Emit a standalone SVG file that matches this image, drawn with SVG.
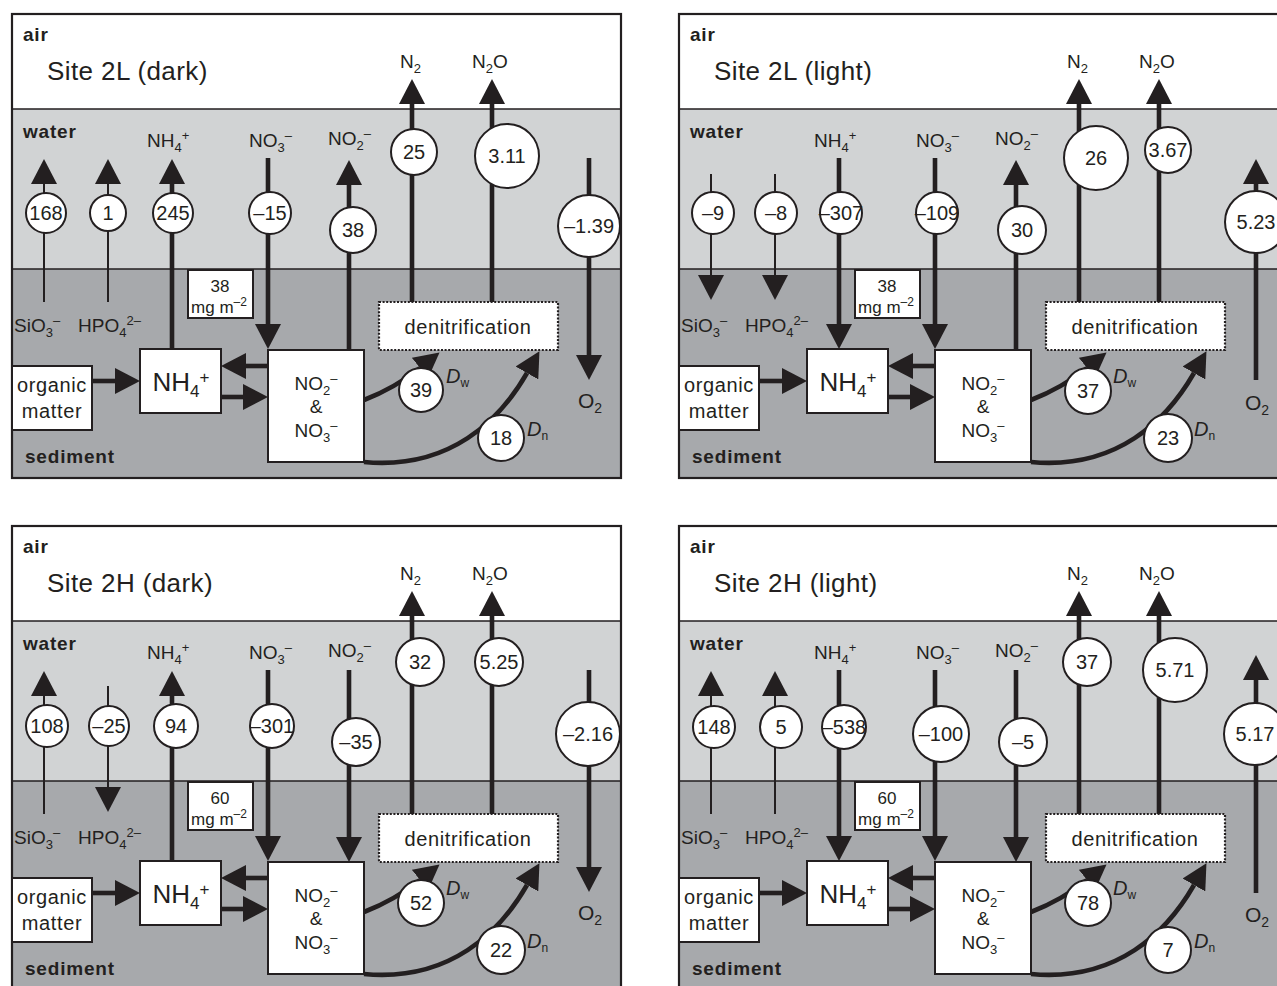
<svg xmlns="http://www.w3.org/2000/svg" width="1277" height="986" viewBox="0 0 1277 986">
<style>
.air{fill:#ffffff}
.water{fill:#d1d3d4}
.sed{fill:#a7a9ac}
.div{stroke:#231f20;stroke-width:1.6;fill:none}
.frame{fill:none;stroke:#231f20;stroke-width:2.2}
.thin{stroke:#231f20;stroke-width:2;fill:none;marker-end:url(#ah)}
.thick{stroke:#231f20;stroke-width:4.6;fill:none;marker-end:url(#ah)}
.node{fill:#ffffff;stroke:#231f20;stroke-width:2}
.dot{fill:#ffffff;stroke:#231f20;stroke-width:2.2;stroke-dasharray:2 1.6}
text{font-family:"Liberation Sans",Arial,Helvetica,sans-serif;fill:#231f20}
.lb{font-size:19px;font-weight:bold;letter-spacing:0.8px}
.ti{font-size:26px;letter-spacing:0.4px}
.sp{font-size:19px}
.ss{font-size:13px}
.num{font-size:20px;text-anchor:middle}
.bx{font-size:20px;text-anchor:middle;letter-spacing:0.6px}
.nh{font-size:26px;text-anchor:middle}
.nhs{font-size:17px}
.ms{font-size:17px;text-anchor:middle}
.mss{font-size:12px}
.mid{text-anchor:middle}
.o2{font-size:21px}
.o2s{font-size:14px}
.dl{font-size:20px;font-style:italic}
.dsub{font-size:12px;font-style:normal}
</style>
<defs>
<marker id="ah" markerUnits="userSpaceOnUse" markerWidth="25" markerHeight="26" viewBox="0 0 25 26" refX="0" refY="13" orient="auto">
<path d="M0,0L25,13L0,26Z" fill="#231f20"/>
</marker>
</defs>

<!-- ===================== Site 2L (dark) ===================== -->
<g id="panel-2L-dark">
<g id="tl-background">
<rect class="air" x="12" y="14" width="609" height="95"/>
<rect class="water" x="12" y="109" width="609" height="160"/>
<rect class="sed" x="12" y="269" width="609" height="209"/>
<path class="div" d="M12,109H621M12,269H621"/>
<rect class="frame" x="12" y="14" width="609" height="464"/>
</g>
<g id="tl-labels">
<text class="lb" x="23" y="41">air</text>
<text class="ti" x="47" y="80">Site 2L (dark)</text>
<text class="lb" x="23" y="138">water</text>
<text class="lb" x="25" y="463">sediment</text>
<text class="sp" x="147" y="147">NH<tspan class="ss" dy="5">4</tspan><tspan class="ss" dy="-12">+</tspan></text>
<text class="sp" x="249" y="147">NO<tspan class="ss" dy="5">3</tspan><tspan class="ss" dy="-12">–</tspan></text>
<text class="sp" x="328" y="145">NO<tspan class="ss" dy="5">2</tspan><tspan class="ss" dy="-12">–</tspan></text>
<text class="sp" x="400" y="68">N<tspan class="ss" dy="5">2</tspan></text>
<text class="sp" x="472" y="68">N<tspan class="ss" dy="5">2</tspan><tspan dy="-5">O</tspan></text>
<text class="sp" x="14" y="332">SiO<tspan class="ss" dy="5">3</tspan><tspan class="ss" dy="-12">–</tspan></text>
<text class="sp" x="78" y="332">HPO<tspan class="ss" dy="5">4</tspan><tspan class="ss" dy="-12">2–</tspan></text>
<text class="o2" x="578" y="408">O<tspan class="o2s" dy="5">2</tspan></text>
<text class="dl" x="446" y="383">D<tspan class="dsub" dy="4">w</tspan></text>
<text class="dl" x="527" y="436">D<tspan class="dsub" dy="4">n</tspan></text>
</g>
<g id="tl-connectors">
<path class="thin" d="M44,302V184"/>
<path class="thin" d="M108,302V184"/>
<path class="thick" d="M172,349V184"/>
<path class="thick" d="M268,158V324"/>
<path class="thick" d="M349,350V185"/>
<path class="thick" d="M412,302V104"/>
<path class="thick" d="M492,302V104"/>
<path class="thick" d="M589,158V355"/>
<path class="thick" d="M92,381H115"/>
<path class="thick" d="M268,366H246"/>
<path class="thick" d="M221,397H243"/>
<path class="thick" d="M364,400Q395,388 420,368"/>
<path class="thick" d="M364,462C450,470 500,420 527,373"/>
</g>
<g id="tl-denitrification"><rect class="dot" x="379" y="302" width="179" height="48"/><text class="bx" x="468" y="334">denitrification</text></g>
<g id="tl-organic"><rect class="node" x="12" y="366" width="80" height="64"/><text class="bx" x="52" y="392">organic</text><text class="bx" x="52" y="418">matter</text></g>
<g id="tl-nh4"><rect class="node" x="140" y="349" width="81" height="64"/><text class="nh" x="181" y="391">NH<tspan class="nhs" dy="6">4</tspan><tspan class="nhs" dy="-14">+</tspan></text></g>
<g id="tl-nox"><rect class="node" x="268" y="350" width="96" height="112"/><text class="sp mid" x="316" y="390">NO<tspan class="ss" dy="5">2</tspan><tspan class="ss" dy="-12">–</tspan></text><text class="sp mid" x="316" y="413">&amp;</text><text class="sp mid" x="316" y="437">NO<tspan class="ss" dy="5">3</tspan><tspan class="ss" dy="-12">–</tspan></text></g>
<g id="tl-mass"><rect class="node" x="188" y="270" width="65" height="48"/><text class="ms" x="220" y="292">38</text><text class="ms" x="219" y="313">mg m<tspan class="mss" dy="-7">–2</tspan></text></g>
<g id="tl-si"><circle class="node" cx="46" cy="213" r="20"/><text class="num" x="46" y="220">168</text></g>
<g id="tl-hpo"><circle class="node" cx="108" cy="213" r="18"/><text class="num" x="108" y="220">1</text></g>
<g id="tl-nh4f"><circle class="node" cx="173" cy="213" r="20"/><text class="num" x="173" y="220">245</text></g>
<g id="tl-no3f"><circle class="node" cx="270" cy="213" r="21"/><text class="num" x="270" y="220">–15</text></g>
<g id="tl-no2f"><circle class="node" cx="353" cy="230" r="23"/><text class="num" x="353" y="237">38</text></g>
<g id="tl-n2f"><circle class="node" cx="414" cy="152" r="23"/><text class="num" x="414" y="159">25</text></g>
<g id="tl-n2of"><circle class="node" cx="507" cy="156" r="32"/><text class="num" x="507" y="163">3.11</text></g>
<g id="tl-o2f"><circle class="node" cx="589" cy="226" r="31"/><text class="num" x="589" y="233">–1.39</text></g>
<g id="tl-dw"><circle class="node" cx="421" cy="390" r="22"/><text class="num" x="421" y="397">39</text></g>
<g id="tl-dn"><circle class="node" cx="501" cy="438" r="23"/><text class="num" x="501" y="445">18</text></g>
</g>

<!-- ===================== Site 2L (light) ===================== -->
<g id="panel-2L-light" transform="translate(667,0)">
<g id="tr-background">
<rect class="air" x="12" y="14" width="609" height="95"/>
<rect class="water" x="12" y="109" width="609" height="160"/>
<rect class="sed" x="12" y="269" width="609" height="209"/>
<path class="div" d="M12,109H621M12,269H621"/>
<rect class="frame" x="12" y="14" width="609" height="464"/>
</g>
<g id="tr-labels">
<text class="lb" x="23" y="41">air</text>
<text class="ti" x="47" y="80">Site 2L (light)</text>
<text class="lb" x="23" y="138">water</text>
<text class="lb" x="25" y="463">sediment</text>
<text class="sp" x="147" y="147">NH<tspan class="ss" dy="5">4</tspan><tspan class="ss" dy="-12">+</tspan></text>
<text class="sp" x="249" y="147">NO<tspan class="ss" dy="5">3</tspan><tspan class="ss" dy="-12">–</tspan></text>
<text class="sp" x="328" y="145">NO<tspan class="ss" dy="5">2</tspan><tspan class="ss" dy="-12">–</tspan></text>
<text class="sp" x="400" y="68">N<tspan class="ss" dy="5">2</tspan></text>
<text class="sp" x="472" y="68">N<tspan class="ss" dy="5">2</tspan><tspan dy="-5">O</tspan></text>
<text class="sp" x="14" y="332">SiO<tspan class="ss" dy="5">3</tspan><tspan class="ss" dy="-12">–</tspan></text>
<text class="sp" x="78" y="332">HPO<tspan class="ss" dy="5">4</tspan><tspan class="ss" dy="-12">2–</tspan></text>
<text class="o2" x="578" y="410">O<tspan class="o2s" dy="5">2</tspan></text>
<text class="dl" x="446" y="383">D<tspan class="dsub" dy="4">w</tspan></text>
<text class="dl" x="527" y="436">D<tspan class="dsub" dy="4">n</tspan></text>
</g>
<g id="tr-connectors">
<path class="thin" d="M44,174V275"/>
<path class="thin" d="M108,174V275"/>
<path class="thick" d="M172,158V324"/>
<path class="thick" d="M268,158V324"/>
<path class="thick" d="M349,350V185"/>
<path class="thick" d="M412,302V104"/>
<path class="thick" d="M492,302V104"/>
<path class="thick" d="M589,380V184"/>
<path class="thick" d="M92,381H115"/>
<path class="thick" d="M268,366H246"/>
<path class="thick" d="M221,397H243"/>
<path class="thick" d="M364,400Q395,388 420,368"/>
<path class="thick" d="M364,462C450,470 500,420 527,373"/>
</g>
<g id="tr-denitrification"><rect class="dot" x="379" y="302" width="179" height="48"/><text class="bx" x="468" y="334">denitrification</text></g>
<g id="tr-organic"><rect class="node" x="12" y="366" width="80" height="64"/><text class="bx" x="52" y="392">organic</text><text class="bx" x="52" y="418">matter</text></g>
<g id="tr-nh4"><rect class="node" x="140" y="349" width="81" height="64"/><text class="nh" x="181" y="391">NH<tspan class="nhs" dy="6">4</tspan><tspan class="nhs" dy="-14">+</tspan></text></g>
<g id="tr-nox"><rect class="node" x="268" y="350" width="96" height="112"/><text class="sp mid" x="316" y="390">NO<tspan class="ss" dy="5">2</tspan><tspan class="ss" dy="-12">–</tspan></text><text class="sp mid" x="316" y="413">&amp;</text><text class="sp mid" x="316" y="437">NO<tspan class="ss" dy="5">3</tspan><tspan class="ss" dy="-12">–</tspan></text></g>
<g id="tr-mass"><rect class="node" x="188" y="270" width="65" height="48"/><text class="ms" x="220" y="292">38</text><text class="ms" x="219" y="313">mg m<tspan class="mss" dy="-7">–2</tspan></text></g>
<g id="tr-si"><circle class="node" cx="46" cy="213" r="21"/><text class="num" x="46" y="220">–9</text></g>
<g id="tr-hpo"><circle class="node" cx="109" cy="213" r="21"/><text class="num" x="109" y="220">–8</text></g>
<g id="tr-nh4f"><circle class="node" cx="174" cy="213" r="21"/><text class="num" x="174" y="220">–307</text></g>
<g id="tr-no3f"><circle class="node" cx="270" cy="213" r="21"/><text class="num" x="270" y="220">–109</text></g>
<g id="tr-no2f"><circle class="node" cx="355" cy="230" r="24"/><text class="num" x="355" y="237">30</text></g>
<g id="tr-n2f"><circle class="node" cx="429" cy="158" r="32"/><text class="num" x="429" y="165">26</text></g>
<g id="tr-n2of"><circle class="node" cx="501" cy="150" r="23"/><text class="num" x="501" y="157">3.67</text></g>
<g id="tr-o2f"><circle class="node" cx="589" cy="222" r="31"/><text class="num" x="589" y="229">5.23</text></g>
<g id="tr-dw"><circle class="node" cx="421" cy="391" r="23"/><text class="num" x="421" y="398">37</text></g>
<g id="tr-dn"><circle class="node" cx="501" cy="438" r="24"/><text class="num" x="501" y="445">23</text></g>
</g>

<!-- ===================== Site 2H (dark) ===================== -->
<g id="panel-2H-dark" transform="translate(0,512)">
<g id="bl-background">
<rect class="air" x="12" y="14" width="609" height="95"/>
<rect class="water" x="12" y="109" width="609" height="160"/>
<rect class="sed" x="12" y="269" width="609" height="209"/>
<path class="div" d="M12,109H621M12,269H621"/>
<rect class="frame" x="12" y="14" width="609" height="464"/>
</g>
<g id="bl-labels">
<text class="lb" x="23" y="41">air</text>
<text class="ti" x="47" y="80">Site 2H (dark)</text>
<text class="lb" x="23" y="138">water</text>
<text class="lb" x="25" y="463">sediment</text>
<text class="sp" x="147" y="147">NH<tspan class="ss" dy="5">4</tspan><tspan class="ss" dy="-12">+</tspan></text>
<text class="sp" x="249" y="147">NO<tspan class="ss" dy="5">3</tspan><tspan class="ss" dy="-12">–</tspan></text>
<text class="sp" x="328" y="145">NO<tspan class="ss" dy="5">2</tspan><tspan class="ss" dy="-12">–</tspan></text>
<text class="sp" x="400" y="68">N<tspan class="ss" dy="5">2</tspan></text>
<text class="sp" x="472" y="68">N<tspan class="ss" dy="5">2</tspan><tspan dy="-5">O</tspan></text>
<text class="sp" x="14" y="332">SiO<tspan class="ss" dy="5">3</tspan><tspan class="ss" dy="-12">–</tspan></text>
<text class="sp" x="78" y="332">HPO<tspan class="ss" dy="5">4</tspan><tspan class="ss" dy="-12">2–</tspan></text>
<text class="o2" x="578" y="408">O<tspan class="o2s" dy="5">2</tspan></text>
<text class="dl" x="446" y="383">D<tspan class="dsub" dy="4">w</tspan></text>
<text class="dl" x="527" y="436">D<tspan class="dsub" dy="4">n</tspan></text>
</g>
<g id="bl-connectors">
<path class="thin" d="M44,302V184"/>
<path class="thin" d="M108,174V275"/>
<path class="thick" d="M172,349V184"/>
<path class="thick" d="M268,158V324"/>
<path class="thick" d="M349,158V325"/>
<path class="thick" d="M412,302V104"/>
<path class="thick" d="M492,302V104"/>
<path class="thick" d="M589,158V355"/>
<path class="thick" d="M92,381H115"/>
<path class="thick" d="M268,366H246"/>
<path class="thick" d="M221,397H243"/>
<path class="thick" d="M364,400Q395,388 420,368"/>
<path class="thick" d="M364,462C450,470 500,420 527,373"/>
</g>
<g id="bl-denitrification"><rect class="dot" x="379" y="302" width="179" height="48"/><text class="bx" x="468" y="334">denitrification</text></g>
<g id="bl-organic"><rect class="node" x="12" y="366" width="80" height="64"/><text class="bx" x="52" y="392">organic</text><text class="bx" x="52" y="418">matter</text></g>
<g id="bl-nh4"><rect class="node" x="140" y="349" width="81" height="64"/><text class="nh" x="181" y="391">NH<tspan class="nhs" dy="6">4</tspan><tspan class="nhs" dy="-14">+</tspan></text></g>
<g id="bl-nox"><rect class="node" x="268" y="350" width="96" height="112"/><text class="sp mid" x="316" y="390">NO<tspan class="ss" dy="5">2</tspan><tspan class="ss" dy="-12">–</tspan></text><text class="sp mid" x="316" y="413">&amp;</text><text class="sp mid" x="316" y="437">NO<tspan class="ss" dy="5">3</tspan><tspan class="ss" dy="-12">–</tspan></text></g>
<g id="bl-mass"><rect class="node" x="188" y="270" width="65" height="48"/><text class="ms" x="220" y="292">60</text><text class="ms" x="219" y="313">mg m<tspan class="mss" dy="-7">–2</tspan></text></g>
<g id="bl-si"><circle class="node" cx="47" cy="214" r="21"/><text class="num" x="47" y="221">108</text></g>
<g id="bl-hpo"><circle class="node" cx="109" cy="214" r="20"/><text class="num" x="109" y="221">–25</text></g>
<g id="bl-nh4f"><circle class="node" cx="176" cy="214" r="22"/><text class="num" x="176" y="221">94</text></g>
<g id="bl-no3f"><circle class="node" cx="272" cy="214" r="22"/><text class="num" x="272" y="221">–301</text></g>
<g id="bl-no2f"><circle class="node" cx="356" cy="230" r="24"/><text class="num" x="356" y="237">–35</text></g>
<g id="bl-n2f"><circle class="node" cx="420" cy="150" r="24"/><text class="num" x="420" y="157">32</text></g>
<g id="bl-n2of"><circle class="node" cx="499" cy="150" r="24"/><text class="num" x="499" y="157">5.25</text></g>
<g id="bl-o2f"><circle class="node" cx="588" cy="222" r="32"/><text class="num" x="588" y="229">–2.16</text></g>
<g id="bl-dw"><circle class="node" cx="421" cy="391" r="23"/><text class="num" x="421" y="398">52</text></g>
<g id="bl-dn"><circle class="node" cx="501" cy="438" r="24"/><text class="num" x="501" y="445">22</text></g>
</g>

<!-- ===================== Site 2H (light) ===================== -->
<g id="panel-2H-light" transform="translate(667,512)">
<g id="br-background">
<rect class="air" x="12" y="14" width="609" height="95"/>
<rect class="water" x="12" y="109" width="609" height="160"/>
<rect class="sed" x="12" y="269" width="609" height="209"/>
<path class="div" d="M12,109H621M12,269H621"/>
<rect class="frame" x="12" y="14" width="609" height="464"/>
</g>
<g id="br-labels">
<text class="lb" x="23" y="41">air</text>
<text class="ti" x="47" y="80">Site 2H (light)</text>
<text class="lb" x="23" y="138">water</text>
<text class="lb" x="25" y="463">sediment</text>
<text class="sp" x="147" y="147">NH<tspan class="ss" dy="5">4</tspan><tspan class="ss" dy="-12">+</tspan></text>
<text class="sp" x="249" y="147">NO<tspan class="ss" dy="5">3</tspan><tspan class="ss" dy="-12">–</tspan></text>
<text class="sp" x="328" y="145">NO<tspan class="ss" dy="5">2</tspan><tspan class="ss" dy="-12">–</tspan></text>
<text class="sp" x="400" y="68">N<tspan class="ss" dy="5">2</tspan></text>
<text class="sp" x="472" y="68">N<tspan class="ss" dy="5">2</tspan><tspan dy="-5">O</tspan></text>
<text class="sp" x="14" y="332">SiO<tspan class="ss" dy="5">3</tspan><tspan class="ss" dy="-12">–</tspan></text>
<text class="sp" x="78" y="332">HPO<tspan class="ss" dy="5">4</tspan><tspan class="ss" dy="-12">2–</tspan></text>
<text class="o2" x="578" y="410">O<tspan class="o2s" dy="5">2</tspan></text>
<text class="dl" x="446" y="383">D<tspan class="dsub" dy="4">w</tspan></text>
<text class="dl" x="527" y="436">D<tspan class="dsub" dy="4">n</tspan></text>
</g>
<g id="br-connectors">
<path class="thin" d="M44,302V184"/>
<path class="thin" d="M108,302V184"/>
<path class="thick" d="M172,158V324"/>
<path class="thick" d="M268,158V324"/>
<path class="thick" d="M349,158V325"/>
<path class="thick" d="M412,302V104"/>
<path class="thick" d="M492,302V104"/>
<path class="thick" d="M589,381V168"/>
<path class="thick" d="M92,381H115"/>
<path class="thick" d="M268,366H246"/>
<path class="thick" d="M221,397H243"/>
<path class="thick" d="M364,400Q395,388 420,368"/>
<path class="thick" d="M364,462C450,470 500,420 527,373"/>
</g>
<g id="br-denitrification"><rect class="dot" x="379" y="302" width="179" height="48"/><text class="bx" x="468" y="334">denitrification</text></g>
<g id="br-organic"><rect class="node" x="12" y="366" width="80" height="64"/><text class="bx" x="52" y="392">organic</text><text class="bx" x="52" y="418">matter</text></g>
<g id="br-nh4"><rect class="node" x="140" y="349" width="81" height="64"/><text class="nh" x="181" y="391">NH<tspan class="nhs" dy="6">4</tspan><tspan class="nhs" dy="-14">+</tspan></text></g>
<g id="br-nox"><rect class="node" x="268" y="350" width="96" height="112"/><text class="sp mid" x="316" y="390">NO<tspan class="ss" dy="5">2</tspan><tspan class="ss" dy="-12">–</tspan></text><text class="sp mid" x="316" y="413">&amp;</text><text class="sp mid" x="316" y="437">NO<tspan class="ss" dy="5">3</tspan><tspan class="ss" dy="-12">–</tspan></text></g>
<g id="br-mass"><rect class="node" x="188" y="270" width="65" height="48"/><text class="ms" x="220" y="292">60</text><text class="ms" x="219" y="313">mg m<tspan class="mss" dy="-7">–2</tspan></text></g>
<g id="br-si"><circle class="node" cx="47" cy="215" r="21"/><text class="num" x="47" y="222">148</text></g>
<g id="br-hpo"><circle class="node" cx="114" cy="215" r="21"/><text class="num" x="114" y="222">5</text></g>
<g id="br-nh4f"><circle class="node" cx="177" cy="215" r="22"/><text class="num" x="177" y="222">–538</text></g>
<g id="br-no3f"><circle class="node" cx="274" cy="222" r="28"/><text class="num" x="274" y="229">–100</text></g>
<g id="br-no2f"><circle class="node" cx="356" cy="230" r="24"/><text class="num" x="356" y="237">–5</text></g>
<g id="br-n2f"><circle class="node" cx="420" cy="150" r="24"/><text class="num" x="420" y="157">37</text></g>
<g id="br-n2of"><circle class="node" cx="508" cy="158" r="32"/><text class="num" x="508" y="165">5.71</text></g>
<g id="br-o2f"><circle class="node" cx="588" cy="222" r="31"/><text class="num" x="588" y="229">5.17</text></g>
<g id="br-dw"><circle class="node" cx="421" cy="391" r="23"/><text class="num" x="421" y="398">78</text></g>
<g id="br-dn"><circle class="node" cx="501" cy="438" r="23"/><text class="num" x="501" y="445">7</text></g>
</g>
</svg>
